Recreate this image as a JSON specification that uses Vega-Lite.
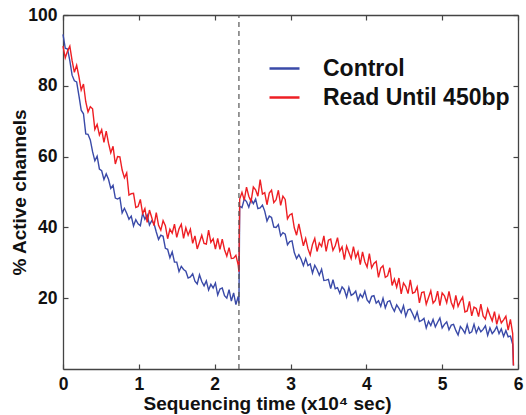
{
"$schema": "https://vega.github.io/schema/vega-lite/v6.json",
"width": 455, "height": 354,
"autosize": {"type": "none"},
"padding": {"left": 63, "top": 15, "right": 8, "bottom": 46},
"background": "white",
"config": {"view": {"stroke": null}, "font": "Liberation Sans"},
"datasets": {"runs": [
{"t":0.00,"C":94.5,"R":91.2},{"t":0.03,"C":90.6,"R":87.9},{"t":0.06,"C":90.4,"R":89.8},{"t":0.09,"C":87.1,"R":91.2},
{"t":0.12,"C":83.0,"R":87.1},{"t":0.15,"C":81.4,"R":83.8},{"t":0.18,"C":81.1,"R":85.8},{"t":0.21,"C":77.2,"R":82.6},
{"t":0.24,"C":73.1,"R":78.8},{"t":0.27,"C":72.1,"R":80.5},{"t":0.30,"C":66.4,"R":75.5},{"t":0.33,"C":66.3,"R":72.6},
{"t":0.36,"C":64.7,"R":74.1},{"t":0.39,"C":61.4,"R":73.5},{"t":0.42,"C":58.8,"R":67.7},{"t":0.45,"C":60.1,"R":69.1},
{"t":0.48,"C":56.5,"R":66.1},{"t":0.51,"C":56.0,"R":67.6},{"t":0.54,"C":53.5,"R":64.0},{"t":0.57,"C":55.1,"R":67.2},
{"t":0.60,"C":53.6,"R":63.8},{"t":0.63,"C":51.0,"R":61.1},{"t":0.66,"C":51.9,"R":62.9},{"t":0.69,"C":48.3,"R":57.9},
{"t":0.72,"C":48.0,"R":60.0},{"t":0.75,"C":48.4,"R":59.9},{"t":0.78,"C":44.1,"R":56.2},{"t":0.81,"C":45.4,"R":54.0},
{"t":0.84,"C":44.0,"R":55.4},{"t":0.87,"C":42.3,"R":49.1},{"t":0.90,"C":43.2,"R":49.5},{"t":0.93,"C":40.4,"R":49.6},
{"t":0.96,"C":42.2,"R":45.6},{"t":0.99,"C":41.0,"R":45.9},{"t":1.02,"C":40.5,"R":47.9},{"t":1.05,"C":44.0,"R":43.9},
{"t":1.08,"C":42.3,"R":45.3},{"t":1.11,"C":43.5,"R":41.4},{"t":1.14,"C":40.7,"R":44.9},{"t":1.17,"C":41.9,"R":42.8},
{"t":1.20,"C":41.1,"R":40.5},{"t":1.23,"C":38.7,"R":44.2},{"t":1.26,"C":36.6,"R":40.6},{"t":1.29,"C":37.8,"R":39.2},
{"t":1.32,"C":37.5,"R":41.9},{"t":1.35,"C":34.1,"R":40.5},{"t":1.38,"C":33.8,"R":36.8},{"t":1.41,"C":31.4,"R":39.5},
{"t":1.44,"C":33.1,"R":38.4},{"t":1.47,"C":30.2,"R":40.9},{"t":1.50,"C":30.2,"R":37.2},{"t":1.53,"C":27.5,"R":39.6},
{"t":1.56,"C":29.0,"R":40.9},{"t":1.59,"C":28.1,"R":36.9},{"t":1.62,"C":27.6,"R":39.9},{"t":1.65,"C":25.7,"R":37.8},
{"t":1.68,"C":26.0,"R":39.5},{"t":1.71,"C":26.9,"R":35.5},{"t":1.74,"C":24.8,"R":37.6},{"t":1.77,"C":24.0,"R":33.9},
{"t":1.80,"C":26.6,"R":35.8},{"t":1.83,"C":24.7,"R":37.8},{"t":1.86,"C":23.5,"R":35.5},{"t":1.89,"C":24.9,"R":35.3},
{"t":1.92,"C":22.3,"R":39.2},{"t":1.95,"C":23.9,"R":35.8},{"t":1.98,"C":22.9,"R":36.8},{"t":2.01,"C":24.3,"R":33.9},
{"t":2.04,"C":20.9,"R":36.9},{"t":2.07,"C":22.6,"R":33.8},{"t":2.10,"C":22.9,"R":36.7},{"t":2.13,"C":20.7,"R":33.7},
{"t":2.16,"C":20.0,"R":31.9},{"t":2.19,"C":22.4,"R":34.3},{"t":2.22,"C":19.2,"R":31.2},{"t":2.25,"C":21.5,"R":31.3},
{"t":2.28,"C":18.2,"R":32.1},{"t":2.31,"C":20.5,"R":29.4},{"t":2.32,"C":18.5,"R":27.5},{"t":2.33,"C":46.0,"R":48.0},
{"t":2.36,"C":45.6,"R":49.9},{"t":2.39,"C":48.0,"R":47.7},{"t":2.42,"C":47.3,"R":51.4},{"t":2.45,"C":45.7,"R":48.8},
{"t":2.48,"C":47.9,"R":47.3},{"t":2.51,"C":46.7,"R":51.4},{"t":2.54,"C":48.0,"R":50.6},{"t":2.57,"C":45.3,"R":48.8},
{"t":2.60,"C":45.5,"R":53.5},{"t":2.63,"C":46.3,"R":49.4},{"t":2.66,"C":44.6,"R":49.8},{"t":2.69,"C":41.8,"R":46.4},
{"t":2.72,"C":43.2,"R":49.7},{"t":2.75,"C":42.8,"R":50.5},{"t":2.78,"C":40.1,"R":47.0},{"t":2.81,"C":40.0,"R":47.8},
{"t":2.84,"C":40.8,"R":50.5},{"t":2.87,"C":37.6,"R":46.2},{"t":2.90,"C":38.5,"R":48.8},{"t":2.93,"C":38.1,"R":47.9},
{"t":2.96,"C":35.1,"R":42.4},{"t":2.99,"C":36.0,"R":43.5},{"t":3.02,"C":36.2,"R":43.9},{"t":3.05,"C":32.9,"R":39.9},
{"t":3.08,"C":31.2,"R":37.8},{"t":3.11,"C":32.3,"R":41.0},{"t":3.14,"C":31.0,"R":37.9},{"t":3.17,"C":29.2,"R":34.8},
{"t":3.20,"C":31.2,"R":36.9},{"t":3.23,"C":29.2,"R":34.0},{"t":3.26,"C":29.7,"R":32.2},{"t":3.29,"C":27.1,"R":35.2},
{"t":3.32,"C":29.3,"R":36.9},{"t":3.35,"C":28.1,"R":33.2},{"t":3.38,"C":26.5,"R":35.6},{"t":3.41,"C":28.2,"R":34.6},
{"t":3.44,"C":25.0,"R":37.6},{"t":3.47,"C":25.1,"R":33.2},{"t":3.50,"C":25.3,"R":36.4},{"t":3.53,"C":22.7,"R":36.7},
{"t":3.56,"C":25.2,"R":33.5},{"t":3.59,"C":22.7,"R":34.8},{"t":3.62,"C":23.0,"R":37.1},{"t":3.65,"C":21.4,"R":33.3},
{"t":3.68,"C":23.2,"R":34.5},{"t":3.71,"C":22.4,"R":30.9},{"t":3.74,"C":20.3,"R":34.7},{"t":3.77,"C":23.0,"R":32.9},
{"t":3.80,"C":20.8,"R":31.2},{"t":3.83,"C":21.2,"R":34.6},{"t":3.86,"C":22.0,"R":31.4},{"t":3.89,"C":19.4,"R":33.1},
{"t":3.92,"C":21.1,"R":29.5},{"t":3.95,"C":20.2,"R":33.1},{"t":3.98,"C":22.0,"R":30.3},{"t":4.01,"C":19.5,"R":28.8},
{"t":4.04,"C":18.7,"R":32.6},{"t":4.07,"C":20.5,"R":28.6},{"t":4.10,"C":20.7,"R":29.8},{"t":4.13,"C":18.6,"R":30.4},
{"t":4.16,"C":19.3,"R":25.9},{"t":4.19,"C":17.7,"R":28.5},{"t":4.22,"C":20.0,"R":29.2},{"t":4.25,"C":17.3,"R":25.9},
{"t":4.28,"C":19.0,"R":26.3},{"t":4.31,"C":19.3,"R":28.6},{"t":4.34,"C":17.5,"R":23.6},{"t":4.37,"C":16.3,"R":25.4},
{"t":4.40,"C":18.1,"R":23.1},{"t":4.43,"C":17.1,"R":25.7},{"t":4.46,"C":15.9,"R":21.2},{"t":4.49,"C":17.9,"R":24.3},
{"t":4.52,"C":14.9,"R":23.3},{"t":4.55,"C":16.7,"R":21.3},{"t":4.58,"C":16.9,"R":25.2},{"t":4.61,"C":15.6,"R":21.4},
{"t":4.64,"C":14.1,"R":21.7},{"t":4.67,"C":16.1,"R":23.2},{"t":4.70,"C":13.4,"R":18.7},{"t":4.73,"C":13.7,"R":21.6},
{"t":4.76,"C":14.3,"R":21.8},{"t":4.79,"C":11.6,"R":18.3},{"t":4.82,"C":13.5,"R":20.2},{"t":4.85,"C":12.3,"R":22.1},
{"t":4.88,"C":14.0,"R":18.6},{"t":4.91,"C":11.9,"R":19.4},{"t":4.94,"C":13.2,"R":22.0},{"t":4.97,"C":14.4,"R":17.9},
{"t":5.00,"C":11.6,"R":21.5},{"t":5.03,"C":12.6,"R":20.7},{"t":5.06,"C":13.3,"R":18.7},{"t":5.09,"C":11.1,"R":21.9},
{"t":5.12,"C":12.4,"R":18.8},{"t":5.15,"C":12.6,"R":17.3},{"t":5.18,"C":10.9,"R":20.8},{"t":5.21,"C":9.6,"R":17.7},
{"t":5.24,"C":12.0,"R":19.2},{"t":5.27,"C":11.2,"R":20.3},{"t":5.30,"C":10.1,"R":16.1},{"t":5.33,"C":12.5,"R":16.4},
{"t":5.36,"C":10.1,"R":19.1},{"t":5.39,"C":10.5,"R":15.0},{"t":5.42,"C":12.6,"R":17.5},{"t":5.45,"C":10.2,"R":17.1},
{"t":5.48,"C":11.8,"R":14.8},{"t":5.51,"C":10.5,"R":18.3},{"t":5.54,"C":11.2,"R":15.0},{"t":5.57,"C":12.2,"R":14.1},
{"t":5.60,"C":9.5,"R":17.0},{"t":5.63,"C":11.6,"R":15.2},{"t":5.66,"C":10.0,"R":13.6},{"t":5.69,"C":10.8,"R":16.2},
{"t":5.72,"C":12.0,"R":12.6},{"t":5.75,"C":10.0,"R":15.1},{"t":5.78,"C":11.3,"R":13.0},{"t":5.81,"C":9.2,"R":13.9},
{"t":5.84,"C":10.9,"R":14.9},{"t":5.87,"C":9.1,"R":11.0},{"t":5.90,"C":9.3,"R":14.0},{"t":5.93,"C":7.0,"R":10.0},
{"t":5.94,"C":1.0,"R":1.0}
]},
"layer": [
 {
  "data": {"name": "runs"},
  "transform": [{"fold": ["C", "R"], "as": ["series", "v"]}],
  "mark": {"type": "line", "strokeWidth": 1.4},
  "encoding": {
   "x": {"field": "t", "type": "quantitative", "scale": {"domain": [0, 6], "nice": false},
     "axis": {"orient": "bottom", "values": [0,1,2,3,4,5,6], "tickSize": -5, "labelPadding": 11, "grid": false,
       "domainColor": "#444", "domainWidth": 1.3, "tickColor": "#444", "tickWidth": 1.2,
       "labelFontSize": 17.5, "labelFontWeight": "bold", "labelColor": "#111", "labelFlush": false,
       "title": "Sequencing time (x10⁴ sec)", "titleFontSize": 19, "titleFontWeight": "bold", "titleColor": "#111",
       "titleX": 204, "titleY": 40, "titleAlign": "center", "titleBaseline": "alphabetic"}},
   "y": {"field": "v", "type": "quantitative", "scale": {"domain": [0, 100], "nice": false},
     "axis": {"orient": "left", "values": [20,40,60,80,100], "tickSize": -5, "labelPadding": 11, "grid": false,
       "domainColor": "#444", "domainWidth": 1.3, "tickColor": "#444", "tickWidth": 1.2,
       "labelFontSize": 17.5, "labelFontWeight": "bold", "labelColor": "#111", "labelFlush": false,
       "title": "% Active channels", "titleFontSize": 19, "titleFontWeight": "bold", "titleColor": "#111",
       "titleAngle": -90, "titleX": -38, "titleY": 177, "titleAlign": "center", "titleBaseline": "alphabetic"}},
   "color": {"field": "series", "type": "nominal",
     "scale": {"domain": ["C", "R"], "range": ["#3a4aa8", "#ee1f24"]},
     "legend": {"orient": "none", "legendX": 205, "legendY": 37, "title": null,
       "symbolType": "stroke", "symbolSize": 900, "symbolStrokeWidth": 2.5,
       "labelFontSize": 23, "labelFontWeight": "bold", "labelColor": "#111", "labelOffset": 22, "labelLimit": 0,
       "rowPadding": 0, "labelExpr": "datum.label == 'C' ? 'Control' : 'Read Until 450bp'"}}
  }
 },
 {
  "data": {"values": [{"t": 2.32}]},
  "mark": {"type": "rule", "strokeDash": [5, 4], "color": "#555", "strokeWidth": 1.2},
  "encoding": {
   "x": {"field": "t", "type": "quantitative",
     "axis": {"orient": "top", "values": [0,1,2,3,4,5,6], "tickSize": -5, "labels": false, "grid": false,
       "domainColor": "#444", "domainWidth": 1.3, "tickColor": "#444", "tickWidth": 1.2, "title": null}},
   "y": {"datum": 0, "type": "quantitative",
     "axis": {"orient": "right", "values": [20,40,60,80,100], "tickSize": -5, "labels": false, "grid": false,
       "domainColor": "#444", "domainWidth": 1.3, "tickColor": "#444", "tickWidth": 1.2, "title": null}},
   "y2": {"datum": 100}
  }
 }
],
"resolve": {"axis": {"x": "independent", "y": "independent"}}
}
